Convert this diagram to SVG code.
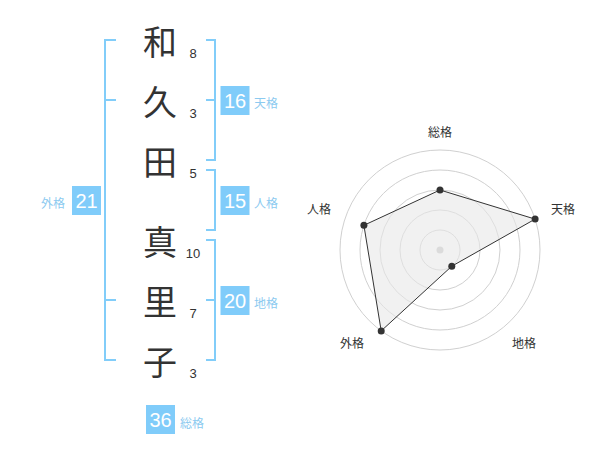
<svg xmlns="http://www.w3.org/2000/svg" width="600" height="470" viewBox="0 0 600 470">
<style>
.kanji{font-family:"Noto Sans CJK JP","Noto Sans",sans-serif;font-size:34px;fill:#333;text-anchor:middle;dominant-baseline:central}
.stroke{font-family:"Liberation Sans",Arial,sans-serif;font-size:13px;fill:#333;text-anchor:middle}
.br{fill:none;stroke:#82cdf9;stroke-width:2}
.box{fill:#80ccfa}
.num{font-family:"Liberation Sans",Arial,sans-serif;font-size:20px;fill:#fff;text-anchor:middle;dominant-baseline:central}
.lab{font-family:"Noto Sans CJK JP",sans-serif;font-size:12px;fill:#8ccaf0;dominant-baseline:central}
.ring{fill:none;stroke:#d0d0d0;stroke-width:1}
.rlab{font-family:"Noto Sans CJK JP",sans-serif;font-size:12px;fill:#333;text-anchor:middle;dominant-baseline:central}
.pt{fill:#333}
</style>
<rect width="600" height="470" fill="#fff"/>
<g id="name">
<text class="kanji" x="160" y="40">和</text>
<text class="kanji" x="160" y="100">久</text>
<text class="kanji" x="160" y="160">田</text>
<text class="kanji" x="160" y="240">真</text>
<text class="kanji" x="160" y="300">里</text>
<text class="kanji" x="160" y="360">子</text>
<text class="stroke" x="193" y="58">8</text>
<text class="stroke" x="193" y="118">3</text>
<text class="stroke" x="193" y="178">5</text>
<text class="stroke" x="193" y="258">10</text>
<text class="stroke" x="193" y="318">7</text>
<text class="stroke" x="193" y="378">3</text>
</g>
<g id="connectors">
<path class="br" d="M116,40 H105 V360 H116 M105,100 H116 M105,300 H116"/>
<path class="br" d="M206,40 H215 V160 H206 M206,100 H215"/>
<path class="br" d="M206,170 H215 V230 H206"/>
<path class="br" d="M206,240 H215 V360 H206 M206,300 H215"/>
</g>
<g id="gaikaku">
<rect class="box" x="72" y="186" width="29" height="29"/>
<text class="num" x="86.5" y="201">21</text>
<text class="lab" x="41" y="202">外格</text>
</g>
<g id="tenkaku">
<rect class="box" x="220.5" y="86" width="29" height="29"/>
<text class="num" x="235" y="101">16</text>
<text class="lab" x="254" y="102">天格</text>
</g>
<g id="jinkaku">
<rect class="box" x="220.5" y="186" width="29" height="29"/>
<text class="num" x="235" y="201">15</text>
<text class="lab" x="254" y="202">人格</text>
</g>
<g id="chikaku">
<rect class="box" x="220.5" y="286" width="29" height="29"/>
<text class="num" x="235" y="301">20</text>
<text class="lab" x="254" y="302">地格</text>
</g>
<g id="soukaku">
<rect class="box" x="146" y="405" width="29" height="29"/>
<text class="num" x="160.5" y="420">36</text>
<text class="lab" x="180" y="422">総格</text>
</g>
<g id="radar">
<circle class="ring" cx="440" cy="250" r="20"/>
<circle class="ring" cx="440" cy="250" r="40"/>
<circle class="ring" cx="440" cy="250" r="60"/>
<circle class="ring" cx="440" cy="250" r="80"/>
<circle class="ring" cx="440" cy="250" r="100"/>
<circle cx="440" cy="250" r="3.5" fill="#c8c8c8"/>
<polygon points="440,190 535.1,219.1 451.8,266.2 381.2,330.9 363.9,225.3" fill="#e8e8e8" fill-opacity="0.6" stroke="#333" stroke-width="1"/>
<circle class="pt" cx="440" cy="190" r="3.5"/>
<circle class="pt" cx="535.1" cy="219.1" r="3.5"/>
<circle class="pt" cx="451.8" cy="266.2" r="3.5"/>
<circle class="pt" cx="381.2" cy="330.9" r="3.5"/>
<circle class="pt" cx="363.9" cy="225.3" r="3.5"/>
<text class="rlab" x="440" y="131">総格</text>
<text class="rlab" x="563" y="208">天格</text>
<text class="rlab" x="524" y="342">地格</text>
<text class="rlab" x="352" y="342">外格</text>
<text class="rlab" x="319" y="208">人格</text>
</g>
</svg>
